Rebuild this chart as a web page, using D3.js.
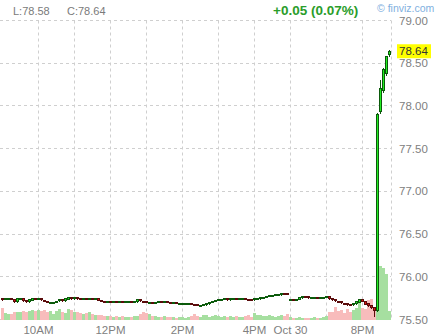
<!DOCTYPE html>
<html>
<head>
<meta charset="utf-8">
<title></title>
<style>
    body {
        margin: 0;
        background: #fff;
        font-family: 'Liberation Sans', Arial, sans-serif;
    }
</style>
</head>
<body>
<div id="chart"></div>
<script src="https://cdnjs.cloudflare.com/ajax/libs/d3/7.8.5/d3.min.js"></script>
<script>

// 5 minute bars, 9:00AM - 4:55PM, then evening session from 6:00PM
const closes = [
    75.735, 75.74, 75.74, 75.735, 75.71, 75.745, 75.745, 75.72, 75.705, 75.73, 75.75, 75.74,
    75.74, 75.725, 75.715, 75.70, 75.70, 75.70, 75.715, 75.73, 75.72, 75.74, 75.76, 75.745,
    75.76, 75.745, 75.74, 75.745, 75.74, 75.745, 75.74, 75.745, 75.725, 75.715, 75.705, 75.71,
    75.70, 75.705, 75.70, 75.705, 75.70, 75.705, 75.705, 75.70, 75.705, 75.73, 75.715, 75.705,
    75.70, 75.70, 75.695, 75.70, 75.705, 75.70, 75.71, 75.70, 75.695, 75.695, 75.69, 75.69,
    75.69, 75.69, 75.69, 75.68, 75.675, 75.665, 75.665, 75.67, 75.685, 75.70, 75.715, 75.725,
    75.73, 75.735, 75.74, 75.73, 75.74, 75.745, 75.735, 75.74, 75.745, 75.735, 75.73, 75.725,
    75.74, 75.745, 75.755, 75.76, 75.775, 75.78, 75.785, 75.79, 75.795, 75.805, 75.80, 75.795,
    75.735, 75.73, 75.735, 75.755, 75.77, 75.765, 75.755, 75.76, 75.76, 75.75, 75.755, 75.76,
    75.765, 75.745, 75.73, 75.715, 75.705, 75.69, 75.685, 75.675, 75.67, 75.685, 75.705, 75.735,
    75.715, 75.685, 75.66, 75.64, 75.61, 77.90, 78.20, 78.43, 78.58, 78.64
]

const opens = [
    75.745, 75.735, 75.74, 75.74, 75.735, 75.71, 75.745, 75.745, 75.72, 75.705, 75.73, 75.75,
    75.74, 75.74, 75.725, 75.715, 75.70, 75.70, 75.70, 75.715, 75.73, 75.72, 75.74, 75.76,
    75.745, 75.76, 75.745, 75.74, 75.745, 75.74, 75.745, 75.74, 75.745, 75.725, 75.715, 75.705,
    75.71, 75.70, 75.705, 75.70, 75.705, 75.70, 75.705, 75.705, 75.70, 75.705, 75.73, 75.715,
    75.705, 75.70, 75.70, 75.695, 75.70, 75.705, 75.70, 75.71, 75.70, 75.695, 75.695, 75.69,
    75.69, 75.69, 75.69, 75.69, 75.68, 75.675, 75.665, 75.665, 75.67, 75.685, 75.70, 75.715,
    75.725, 75.73, 75.735, 75.74, 75.73, 75.74, 75.745, 75.735, 75.74, 75.745, 75.735, 75.73,
    75.725, 75.74, 75.745, 75.755, 75.76, 75.775, 75.78, 75.785, 75.79, 75.795, 75.805, 75.80,
    75.725, 75.735, 75.73, 75.735, 75.755, 75.77, 75.765, 75.755, 75.76, 75.76, 75.75, 75.755,
    75.76, 75.765, 75.745, 75.73, 75.715, 75.705, 75.69, 75.685, 75.675, 75.67, 75.685, 75.705,
    75.735, 75.715, 75.685, 75.66, 75.64, 75.605, 77.93, 78.18, 78.38, 78.61
]

// bars whose wicks reach past the body: [bar, high, low]
const wicks = [
    [0, 75.755, 75.725], [10, 75.755, 75.73], [45, 75.735, 75.70], [93, 75.81, 75.79],
    [119, 75.74, 75.70], [124, 75.64, 75.545], [125, 77.92, 75.60], [126, 78.30, 77.92],
    [127, 78.44, 78.16], [128, 78.59, 78.36], [129, 78.66, 78.58]
]

const volumes = [
    120, 70, 60, 60, 80, 80, 80, 90, 80, 90, 100, 90,
    100, 90, 95, 80, 85, 60, 90, 110, 80, 70, 110, 100,
    80, 75, 70, 60, 70, 75, 60, 50, 45, 50, 40, 35,
    35, 30, 40, 30, 35, 30, 25, 30, 40, 35, 60, 80,
    70, 55, 40, 35, 30, 25, 35, 30, 30, 25, 20, 30,
    25, 20, 30, 40, 55, 35, 30, 45, 50, 30, 40, 45,
    35, 30, 35, 25, 40, 30, 35, 30, 25, 40, 45, 30,
    70, 50, 45, 40, 35, 50, 40, 30, 40, 45, 35, 60,
    25, 15, 20, 30, 20, 15, 20, 15, 25, 20, 15, 25,
    35, 80, 75, 130, 90, 100, 70, 110, 80, 100, 120, 200,
    120, 110, 200, 210, 100, 580, 555, 530, 470, 90
]

const priceTicks = [79.0, 78.5, 78.0, 77.5, 77.0, 76.5, 76.0, 75.5]
const gridBars = [12, 24, 36, 48, 60, 72, 84, 96, 108, 120]
const timeLabels = ['10AM', '', '12PM', '', '2PM', '', '4PM', 'Oct 30', '', '8PM']

const lowText = 'L:78.58'
const closeText = 'C:78.64'
const changeText = '+0.05 (0.07%)'
const lastPrice = 78.64

const svgWidth = 446
const svgHeight = 336
const plot = {left: 0, right: 391, top: 20.5, bottom: 319.5}

const svg = d3.select('#chart')
    .append('svg')
    .attr('width', svgWidth)
    .attr('height', svgHeight)
    .style('display', 'block')

const x = d3.scaleBand()
    .domain(d3.range(closes.length))
    .range([0.5, 390.5])

const y = d3.scaleLinear()
    .domain([75.5, 79.0])
    .range([plot.bottom, plot.top])

const vol = d3.scaleLinear()
    .domain([0, 600])
    .range([0, 58])

const crisp = v => Math.round(v - 0.5) + 0.5

// grid
const grid = svg.append('g')
    .attr('stroke', '#cfcfcf')
    .attr('stroke-dasharray', '3,3')
    .attr('fill', 'none')

grid.selectAll('line.h')
    .data(priceTicks)
    .join('line')
    .attr('class', 'h')
    .attr('x1', plot.left)
    .attr('x2', plot.right)
    .attr('y1', d => crisp(y(d)))
    .attr('y2', d => crisp(y(d)))

grid.selectAll('line.v')
    .data(gridBars)
    .join('line')
    .attr('class', 'v')
    .attr('x1', d => x(d) + 2)
    .attr('x2', d => x(d) + 2)
    .attr('y1', plot.top)
    .attr('y2', plot.bottom)

grid.append('line')
    .attr('x1', plot.right + 0.5)
    .attr('x2', plot.right + 0.5)
    .attr('y1', plot.top)
    .attr('y2', plot.bottom)

const bars = closes.map((c, i) => {
    const w = wicks.find(k => k[0] === i)
    const o = opens[i]
    return {
        i: i,
        open: o,
        close: c,
        high: w ? w[1] : Math.max(o, c),
        low: w ? w[2] : Math.min(o, c),
        volume: volumes[i],
        up: c >= o
    }
})

// volume
svg.append('g')
    .selectAll('rect')
    .data(bars)
    .join('rect')
    .attr('x', d => x(d.i) + 0.5)
    .attr('width', x.step())
    .attr('y', d => Math.round(plot.bottom - vol(d.volume)))
    .attr('height', d => plot.bottom + 0.5 - Math.round(plot.bottom - vol(d.volume)))
    .attr('fill', d => d.up ? '#a6dfa0' : '#f8bcbc')

// candles
const candle = svg.append('g')
    .selectAll('g')
    .data(bars)
    .join('g')

candle.append('line')
    .attr('x1', d => x(d.i) + 2)
    .attr('x2', d => x(d.i) + 2)
    .attr('y1', d => Math.round(y(d.high)))
    .attr('y2', d => Math.round(y(d.low)) + 1)
    .attr('stroke', d => d.up ? '#0b5a0b' : '#5a0b0b')

candle.append('rect')
    .attr('x', d => x(d.i) + 1)
    .attr('width', 2)
    .attr('y', d => crisp(y(Math.max(d.open, d.close))))
    .attr('height', d => Math.max(1, Math.round(y(Math.min(d.open, d.close)) - y(Math.max(d.open, d.close)))))
    .attr('fill', d => d.up ? '#22ee22' : '#e01010')
    .attr('stroke', d => d.up ? '#0b5a0b' : '#5a0b0b')
    .attr('stroke-width', 1)

// price axis
svg.append('g')
    .selectAll('text')
    .data(priceTicks)
    .join('text')
    .attr('x', 399)
    .attr('y', d => y(d))
    .attr('dy', '0.36em')
    .attr('font-size', 11.5)
    .attr('fill', '#808080')
    .text(d => d.toFixed(2))

svg.append('rect')
    .attr('x', 397)
    .attr('y', y(lastPrice) - 7)
    .attr('width', 34)
    .attr('height', 14)
    .attr('fill', '#ffff00')

svg.append('text')
    .attr('x', 399)
    .attr('y', y(lastPrice))
    .attr('dy', '0.36em')
    .attr('font-size', 11.5)
    .attr('fill', '#333')
    .text(lastPrice.toFixed(2))

// time axis
svg.append('g')
    .selectAll('text')
    .data(gridBars)
    .join('text')
    .attr('x', d => x(d) + 2)
    .attr('y', 334)
    .attr('text-anchor', 'middle')
    .attr('font-size', 11.5)
    .attr('fill', '#808080')
    .text((d, i) => timeLabels[i])

// header
svg.append('text')
    .attr('x', 13)
    .attr('y', 15)
    .attr('font-size', 11)
    .attr('fill', '#7a7a7a')
    .text(lowText)

svg.append('text')
    .attr('x', 67)
    .attr('y', 15)
    .attr('font-size', 11)
    .attr('fill', '#7a7a7a')
    .text(closeText)

svg.append('text')
    .attr('x', 273)
    .attr('y', 15)
    .attr('font-size', 13.5)
    .attr('font-weight', 'bold')
    .attr('fill', '#2a9d2a')
    .text(changeText)

svg.append('text')
    .attr('x', 377)
    .attr('y', 12)
    .attr('font-size', 10.5)
    .attr('fill', '#7fb0e0')
    .text('\u00a9 finviz.com')

</script>
</body>
</html>
